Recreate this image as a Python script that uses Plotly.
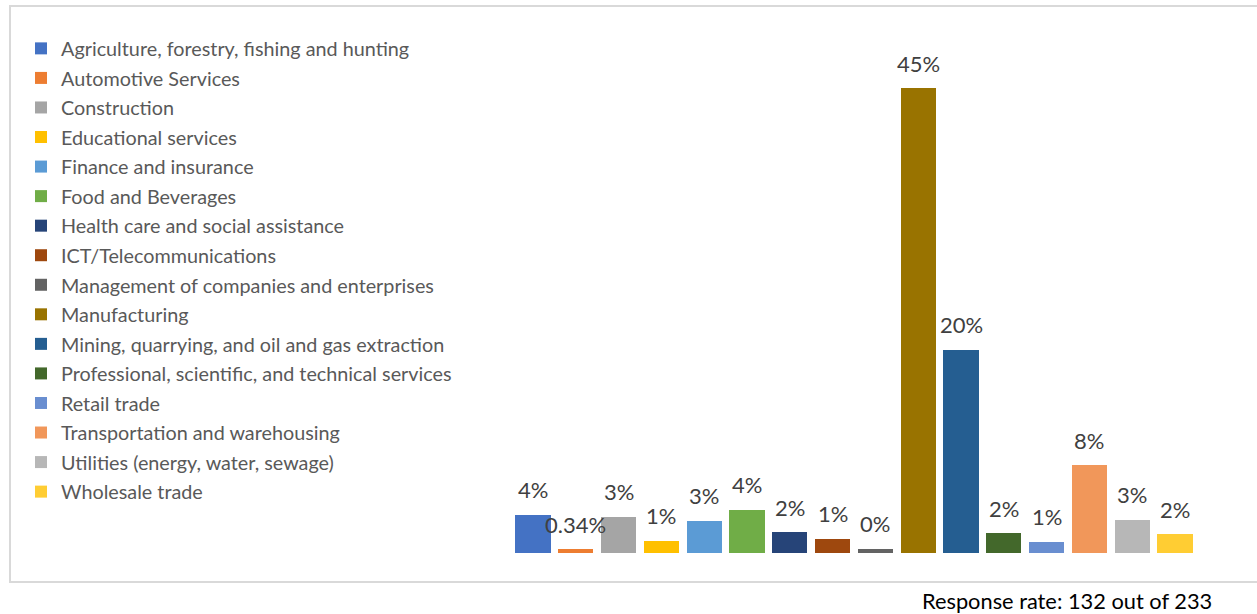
import plotly.graph_objects as go

categories = [
    "Agriculture, forestry, fishing and hunting",
    "Automotive Services",
    "Construction",
    "Educational services",
    "Finance and insurance",
    "Food and Beverages",
    "Health care and social assistance",
    "ICT/Telecommunications",
    "Management of companies and enterprises",
    "Manufacturing",
    "Mining, quarrying, and oil and gas extraction",
    "Professional, scientific, and technical services",
    "Retail trade",
    "Transportation and warehousing",
    "Utilities (energy, water, sewage)",
    "Wholesale trade",
]
values = [3.7, 0.34, 3.5, 1.2, 3.1, 4.2, 2.0, 1.4, 0.4, 45.0, 19.7, 1.9, 1.1, 8.5, 3.2, 1.8]
labels = ["4%", "0.34%", "3%", "1%", "3%", "4%", "2%", "1%", "0%", "45%", "20%", "2%", "1%", "8%", "3%", "2%"]
colors = ["#4472C4", "#ED7D31", "#A5A5A5", "#FFC000", "#5B9BD5", "#70AD47", "#264478", "#9E480E",
          "#636363", "#997300", "#255E91", "#43682B", "#698ED0", "#F1975A", "#B7B7B7", "#FFCD33"]
footnote = "Response rate: 132 out of 233"

W, H = 1257, 614
FONT = "Lato"
LEG_SIZE = 19.8

fig = go.Figure()
for i, (c, v, col) in enumerate(zip(categories, values, colors)):
    fig.add_trace(go.Bar(
        x=[c], y=[v], name=c,
        marker=dict(color=col, line=dict(width=0)),
        legendgroup=str(i), hoverinfo="skip",
    ))

annotations = []
for c, v, t in zip(categories, values, labels):
    annotations.append(dict(x=c, y=v, xref="x", yref="y", text=t, showarrow=False,
                            xanchor="center", yanchor="middle", yshift=25,
                            font=dict(family=FONT, size=22, color="#404040")))
annotations.append(dict(text=footnote, xref="paper", yref="paper", x=1067 / W, y=1 - 600 / H,
                        xanchor="center", yanchor="middle", showarrow=False,
                        font=dict(family=FONT, size=21.8, color="#000000")))

x0, x1 = 511.6, 1196.4
ybase, ytop = 553, 553 - 50 * 10.33
item_h = LEG_SIZE * 1.3 + 3
fig.update_layout(
    width=W, height=H,
    margin=dict(l=0, r=0, t=0, b=0),
    paper_bgcolor="white", plot_bgcolor="white",
    barmode="stack", bargap=0.18,
    showlegend=True,
    legend=dict(x=21 / W, y=1 - 29 / H, xanchor="left", yanchor="top",
                font=dict(family=FONT, size=LEG_SIZE, color="#595959"),
                tracegroupgap=29.55 - item_h, itemwidth=30, bgcolor="rgba(0,0,0,0)"),
    xaxis=dict(domain=[x0 / W, x1 / W], visible=False, categoryorder="array", categoryarray=categories),
    yaxis=dict(domain=[(H - ybase) / H, (H - ytop) / H], range=[0, 50], visible=False),
    shapes=[dict(type="rect", xref="paper", yref="paper",
                 x0=10 / W, x1=1 + 5 / W, y0=1 - 582 / H, y1=1 - 6 / H,
                 line=dict(color="#D9D9D9", width=2), fillcolor="rgba(0,0,0,0)", layer="below")],
    annotations=annotations,
)
fig.write_html("out.html", config={"displayModeBar": False},
               post_script="document.body.style.margin='0';document.body.style.overflow='hidden';")
